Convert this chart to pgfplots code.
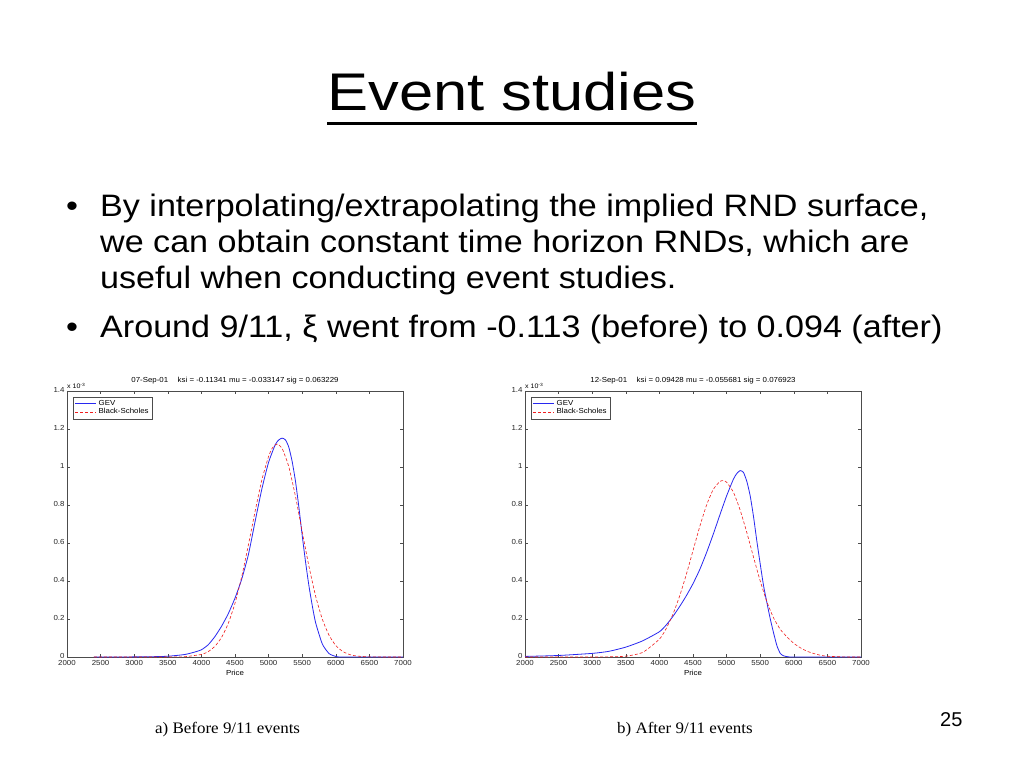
\documentclass[border=0pt]{standalone}
\usepackage{fontspec}
\setmainfont{Liberation Sans}
\newfontfamily\titlefont[FakeStretch=1.16]{Liberation Sans}
\newfontfamily\bodyfont[FakeStretch=1.10]{Liberation Sans}
\newfontfamily\timesf[FakeStretch=1.06]{Liberation Serif}
\newfontfamily\chartfont[FakeStretch=1.08]{Liberation Sans}
\usepackage{pgfplots}
\usepackage{pgfplotstable}
\pgfplotsset{compat=1.18}
\definecolor{matblue}{RGB}{40,40,240}
\definecolor{matred}{RGB}{240,30,30}

\pgfplotstableread{
x y
2400 0
2750 0.0002
3000 0.0006
3250 0.0015
3500 0.004
3750 0.013
3900 0.026
4000 0.038
4100 0.064
4200 0.107
4300 0.162
4400 0.228
4500 0.310
4600 0.410
4700 0.540
4800 0.715
4900 0.885
5000 1.025
5100 1.118
5150 1.142
5200 1.152
5250 1.143
5300 1.105
5350 1.03
5400 0.925
5450 0.79
5500 0.64
5550 0.50
5600 0.375
5650 0.27
5700 0.18
5800 0.068
5900 0.018
6000 0.003
6100 0
7000 0
}\leftgev

\pgfplotstableread{
x y
2400 0
3000 0
3500 0.0001
3750 0.0015
4000 0.0135
4100 0.028
4200 0.056
4300 0.103
4400 0.177
4500 0.283
4600 0.423
4700 0.591
4800 0.768
4900 0.933
5000 1.056
5050 1.097
5100 1.117
5130 1.12
5200 1.099
5300 1.002
5400 0.845
5500 0.660
5600 0.478
5700 0.320
5800 0.198
5900 0.114
6000 0.060
6100 0.030
6200 0.0135
6300 0.0057
6500 0.0007
7000 0
}\leftbs

\pgfplotstableread{
x y
2000 0.003
2500 0.008
3000 0.019
3250 0.030
3500 0.052
3750 0.085
4000 0.133
4100 0.168
4200 0.213
4300 0.265
4400 0.322
4500 0.386
4600 0.460
4700 0.548
4800 0.645
4900 0.748
5000 0.848
5100 0.935
5150 0.965
5200 0.981
5250 0.972
5300 0.925
5350 0.85
5400 0.74
5450 0.61
5500 0.49
5550 0.375
5600 0.285
5650 0.2
5700 0.125
5750 0.058
5800 0.018
5850 0.006
5900 0.002
6000 0
7000 0
}\rightgev

\pgfplotstableread{
x y
2000 0
3000 0.0001
3250 0.001
3500 0.0043
3750 0.0237
4000 0.094
4100 0.149
4200 0.224
4300 0.320
4400 0.434
4500 0.560
4600 0.686
4700 0.798
4800 0.881
4900 0.924
4950 0.928
5000 0.920
5100 0.868
5200 0.775
5300 0.656
5400 0.526
5500 0.400
5600 0.290
5700 0.205
5800 0.145
5900 0.105
6000 0.072
6100 0.048
6200 0.030
6300 0.018
6400 0.009
6500 0.004
6750 0.0005
7000 0
}\rightbs

\pgfplotsset{
  slideax/.style={
    scale only axis, width=336pt, height=266pt,
    xmin=2000, xmax=7000, ymin=0, ymax=1.4,
    xtick={2000,2500,3000,3500,4000,4500,5000,5500,6000,6500,7000},
    xticklabels={2000,2500,3000,3500,4000,4500,5000,5500,6000,6500,7000},
    ytick={0,0.2,0.4,0.6,0.8,1,1.2,1.4},
    yticklabels={0,0.2,0.4,0.6,0.8,1,1.2,1.4},
    /pgf/number format/assume math mode=true,
    tick label style={font=\chartfont\fontsize{7.3}{8}\selectfont, text=black!85},
    xticklabel style={yshift=0pt},
    yticklabel style={xshift=1pt, yshift=1pt},
    major tick length=3pt,
    tick style={black!70, line width=0.4pt},
    axis line style={black!70, line width=0.5pt},
    title style={font=\chartfont\fontsize{7.3}{8}\selectfont, yshift=-3pt},
    xlabel={Price},
    xlabel style={font=\chartfont\fontsize{7.3}{8}\selectfont, yshift=2pt},
    legend style={at={(0.018,0.978)}, anchor=north west,
      font=\chartfont\fontsize{7.3}{8}\selectfont, draw=black!70, line width=0.4pt,
      inner sep=1.5pt, row sep=-2.5pt, legend cell align=left},
    gevline/.style={draw=matblue, line width=0.8pt, smooth, tension=0.35,
      legend image code/.code={\draw[draw=matblue, line width=0.9pt] (0pt,0pt) -- (21pt,0pt);}},
    bsline/.style={draw=matred, line width=0.6pt, dash pattern=on 3pt off 2pt, smooth, tension=0.35,
      legend image code/.code={\draw[draw=matred, line width=0.6pt, dash pattern=on 3pt off 2pt] (0pt,0pt) -- (21pt,0pt);}},
    clip=false,
  }
}

\begin{document}
\begin{tikzpicture}[x=1pt,y=1pt]
\useasboundingbox (0,0) rectangle (1024,768);
\fill[white] (0,0) rectangle (1024,768);

% title
\node[anchor=base, font=\titlefont\fontsize{53}{60}\selectfont, inner sep=0pt] (T) at (512,657) {Event studies};
\draw[line width=3pt] (T.base west |- 0,644) -- (T.base east |- 0,644);

% bullets
\begin{scope}[every node/.style={anchor=base west, inner sep=0pt, font=\bodyfont\fontsize{31}{36}\selectfont}]
\node at (66,551) {\textbullet};
\node at (100,551) {By interpolating/extrapolating the implied RND surface,};
\node at (100,515) {we can obtain constant time horizon RNDs, which are};
\node at (100,479) {useful when conducting event studies.};
\node at (66,430) {\textbullet};
\node at (100,430) {Around 9/11, ξ went from -0.113 (before) to 0.094 (after)};
\end{scope}

% left axis
\begin{axis}[slideax, at={(67pt,111pt)}, anchor=south west,
  title={07-Sep-01\quad\ ksi = -0.11341 mu = -0.033147 sig = 0.063229}]
\addplot[gevline] table[x=x,y=y] {\leftgev};
\addlegendentry{GEV}
\addplot[bsline] table[x=x,y=y] {\leftbs};
\addlegendentry{Black-Scholes}
\node[anchor=south west, inner sep=0pt, font=\chartfont\fontsize{6.5}{7}\selectfont, yshift=2pt] at (rel axis cs:0,1) {x 10\textsuperscript{-3}};
\end{axis}

% right axis
\begin{axis}[slideax, at={(525pt,111pt)}, anchor=south west,
  title={12-Sep-01\quad\ ksi = 0.09428 mu = -0.055681 sig = 0.076923}]
\addplot[gevline] table[x=x,y=y] {\rightgev};
\addlegendentry{GEV}
\addplot[bsline] table[x=x,y=y] {\rightbs};
\addlegendentry{Black-Scholes}
\node[anchor=south west, inner sep=0pt, font=\chartfont\fontsize{6.5}{7}\selectfont, yshift=2pt] at (rel axis cs:0,1) {x 10\textsuperscript{-3}};
\end{axis}

% captions
\node[anchor=base west, inner sep=0pt, font=\timesf\fontsize{16}{18}\selectfont] at (155,35) {a) Before 9/11 events};
\node[anchor=base west, inner sep=0pt, font=\timesf\fontsize{16}{18}\selectfont] at (617,35) {b) After 9/11 events};
\node[anchor=base west, inner sep=0pt, font=\fontsize{20}{24}\selectfont] at (940,42) {25};
\end{tikzpicture}
\end{document}
